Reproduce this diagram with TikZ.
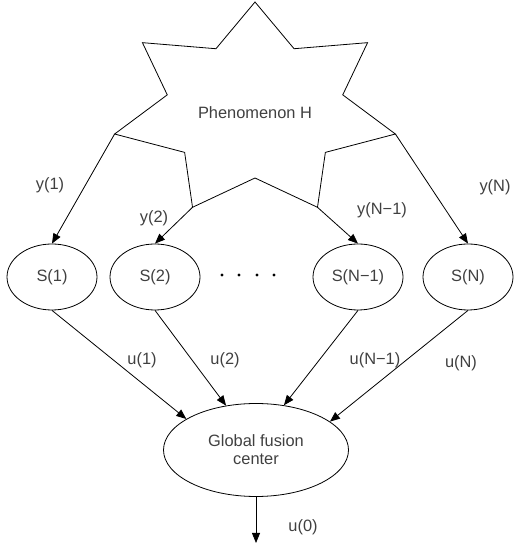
\documentclass[tikz,border=0pt]{standalone}
\usepackage{fontspec}
\setmainfont{Liberation Sans}
\usetikzlibrary{shapes.geometric,arrows.meta,calc}

\begin{document}
\begin{tikzpicture}[x=0.5pt,y=0.5pt,
  every node/.style={font=\fontsize{8.2}{9}\selectfont,text=black!75},
  sensor/.style={draw=black,ellipse,minimum width=45pt,minimum height=33pt,inner sep=0pt},
  fusion/.style={draw=black,ellipse,minimum width=92.5pt,minimum height=46.5pt,inner sep=0pt,align=center},
  link/.style={-{Triangle[length=5pt,width=4pt]}},
  lab/.style={inner sep=0pt}]
\useasboundingbox (0,0) rectangle (513,550);
% phenomenon
\coordinate (c) at (255,440);
\foreach \i in {0,...,6} {
  \coordinate (o\i) at ($(c)+({90-\i*360/7}:144 and 108)$);
  \coordinate (i\i) at ($(c)+({90-180/7-\i*360/7}:90 and 68)$);
}
\draw (o0) \foreach \i [evaluate=\i as \j using {int(mod(\i+1,7))}] in {0,...,6} { -- (i\i) -- (o\j) } -- cycle;
\node (phen) at (255,437) {Phenomenon H};
% sensors
\node[sensor] (s1) at (52,273) {S(1)};
\node[sensor] (s2) at (155,273) {S(2)};
\node[sensor] (sn1) at (358,273) {S(N−1)};
\node[sensor] (sn) at (468,273) {S(N)};
\foreach \x [count=\k] in {222,239,257,274}
  \node[circle,fill=black,inner sep=0pt,minimum size=1.6pt] (d\k) at (\x,275) {};
% fusion center
\node[fusion] (fc) at (256,100) {Global fusion\\center};
\coordinate (out) at (256,7);
% observations
\draw[link] (o5) -- (s1.north);
\draw[link] (o4) -- (s2.north);
\draw[link] (o3) -- (sn1.north);
\draw[link] (o2) -- (sn.north);
\node[lab] (y1) at (50,365) {y(1)};
\node[lab] (y2) at (154,332) {y(2)};
\node[lab] (yn1) at (382,340) {y(N−1)};
\node[lab] (yn) at (495,363) {y(N)};
% decisions
\draw[link] (s1.south) -- (fc.156);
\draw[link] (s2.south) -- (fc.124);
\draw[link] (sn1.south) -- (fc.58);
\draw[link] (sn.south) -- (fc.21);
\draw[link] (fc.south) -- (out);
\node[lab] (u1) at (142,190) {u(1)};
\node[lab] (u2) at (225,190) {u(2)};
\node[lab] (un1) at (375,190) {u(N−1)};
\node[lab] (un) at (461,187) {u(N)};
\node[lab] (u0) at (303,23) {u(0)};
\end{tikzpicture}
\end{document}
